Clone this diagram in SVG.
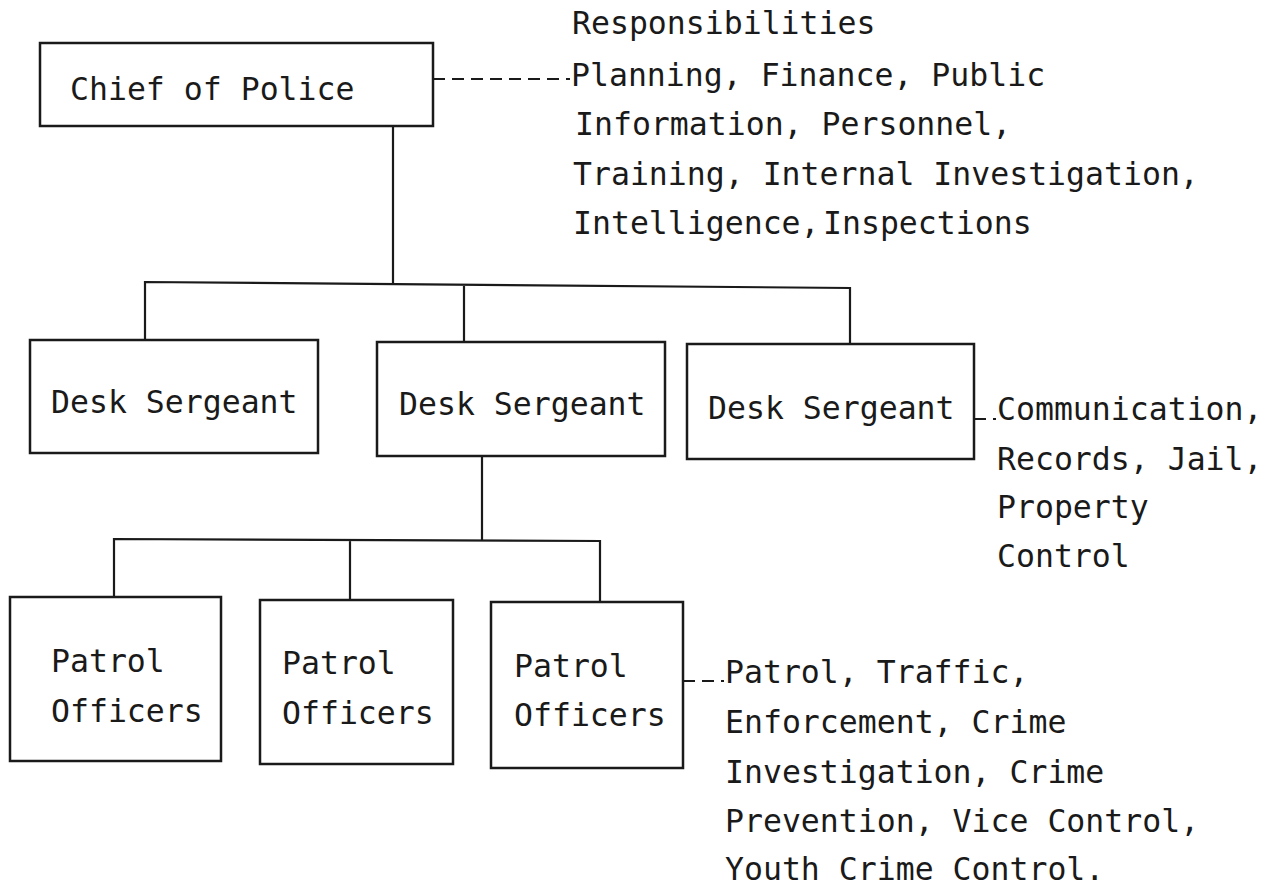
<svg xmlns="http://www.w3.org/2000/svg" width="1273" height="890" viewBox="0 0 1273 890">
<style>
.box{fill:#fff;stroke:#1a1a1a;stroke-width:2.5}
.ln{fill:none;stroke:#1a1a1a;stroke-width:2.2}
.dash{fill:none;stroke:#1a1a1a;stroke-width:2;stroke-dasharray:12 7}
text{font-family:"DejaVu Sans Mono","Liberation Mono",monospace;font-size:31.5px;fill:#1a1a1a}
</style>
<rect width="1273" height="890" fill="#fff"/>
<g id="connectors">
<path class="ln" d="M393,126 V284 M145,340 V282 L850,288 V344 M464,284 V342"/>
<path class="ln" d="M482,456 V540 M114,597 V539 L600,541 V602 M350,540 V600"/>
<path class="dash" d="M433,79 H570"/>
<path class="dash" d="M974,419 H996"/>
<path class="dash" d="M683,681 H724"/>
</g>
<g id="chief">
<rect class="box" x="40" y="43" width="393" height="83"/>
<text x="70" y="100">Chief of Police</text>
</g>
<g id="chief-notes">
<text x="572" y="34">Responsibilities</text>
<text x="571" y="86">Planning, Finance, Public</text>
<text x="575" y="135">Information, Personnel,</text>
<text x="573" y="185">Training, Internal Investigation,</text>
<text x="573" y="234">Intelligence,<tspan x="823">Inspections</tspan></text>
</g>
<g id="desk1">
<rect class="box" x="30" y="340" width="288" height="113"/>
<text x="51" y="413">Desk Sergeant</text>
</g>
<g id="desk2">
<rect class="box" x="377" y="342" width="288" height="114"/>
<text x="399" y="415">Desk Sergeant</text>
</g>
<g id="desk3">
<rect class="box" x="687" y="344" width="287" height="115"/>
<text x="708" y="419">Desk Sergeant</text>
</g>
<g id="desk3-notes">
<text x="997" y="420">Communication,</text>
<text x="997" y="470">Records, Jail,</text>
<text x="997" y="518">Property</text>
<text x="997" y="567">Control</text>
</g>
<g id="patrol1">
<rect class="box" x="10" y="597" width="211" height="164"/>
<text x="51" y="672">Patrol</text>
<text x="51" y="722">Officers</text>
</g>
<g id="patrol2">
<rect class="box" x="260" y="600" width="193" height="164"/>
<text x="282" y="674">Patrol</text>
<text x="282" y="724">Officers</text>
</g>
<g id="patrol3">
<rect class="box" x="491" y="602" width="192" height="166"/>
<text x="514" y="677">Patrol</text>
<text x="514" y="726">Officers</text>
</g>
<g id="patrol-notes">
<text x="725" y="683">Patrol, Traffic,</text>
<text x="725" y="733">Enforcement, Crime</text>
<text x="725" y="783">Investigation, Crime</text>
<text x="725" y="832">Prevention, Vice Control,</text>
<text x="725" y="880">Youth Crime Control.</text>
</g>
</svg>
